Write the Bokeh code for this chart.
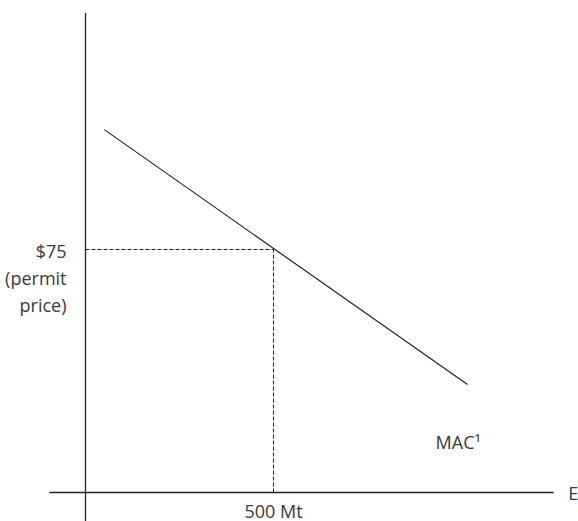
from bokeh.plotting import figure
from bokeh.embed import file_html
from bokeh.resources import INLINE
from bokeh.core.properties import value

# ---- data (E in Mt, price in $) ----
mac_e = [50, 1016]
mac_p = [112, 33.3]
permit_price = 75
quantity = 500
price_labels = ["$75", "(permit", "price)"]
quantity_label = "500 Mt"
curve_label = "MAC\u00b9"
axis_label = "E"

# axis extents
yaxis_e = [0, 0]
yaxis_p = [-10, 148]
xaxis_e = [-96, 1245]
xaxis_p = [0, 0]

W, H = 578, 521
k = quantity / 188.0          # Mt per px
m = permit_price / 243.0      # $ per px
x0 = -85 * k
y1 = 492 * m

p = figure(width=W, height=H, output_backend="svg", toolbar_location=None,
           x_range=(x0, x0 + W * k), y_range=(y1 - H * m, y1),
           min_border=0, outline_line_color=None)
p.axis.visible = False
p.grid.visible = False
p.background_fill_color = "white"
p.border_fill_color = "white"

ink = "#222222"
p.line(yaxis_e, yaxis_p, line_color=ink, line_width=1.3)
p.line(xaxis_e, xaxis_p, line_color=ink, line_width=1.3)
p.line(mac_e, mac_p, line_color=ink, line_width=1.2)
p.line([0, quantity], [permit_price, permit_price], line_color=ink, line_width=1, line_dash="4 2")
p.line([quantity, quantity], [0, permit_price], line_color=ink, line_width=1, line_dash="4 2")

font = value("Open Sans")
tc = "#3a3a3a"
fs = "18px"
offs = [1, 28, 55]
for lab, off in zip(price_labels, offs):
    p.text(x=[-50.5], y=[permit_price], text=[lab], text_align="right", text_baseline="middle",
           y_offset=off, text_font=font, text_font_size=fs, text_color=tc)
p.text(x=[quantity], y=[0], text=[quantity_label], text_align="center", text_baseline="middle",
       y_offset=18, text_font=font, text_font_size=fs, text_color=tc)
p.text(x=[931], y=[15.6], text=[curve_label], text_align="left", text_baseline="middle",
       text_font=font, text_font_size=fs, text_color=tc)
p.text(x=[1284], y=[0], text=[axis_label], text_align="left", text_baseline="middle",
       text_font=font, text_font_size=fs, text_color=tc)

open("out.html", "w").write(file_html(p, INLINE))
